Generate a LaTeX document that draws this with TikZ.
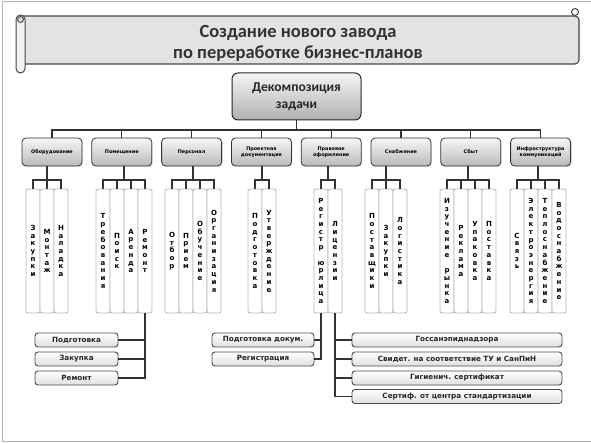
\documentclass[tikz,border=0pt]{standalone}
\usepackage{fontspec}
\setmainfont{DejaVu Sans}
\newfontfamily\headfont{Carlito}
\usetikzlibrary{shadows}

% one letter per line
\newcommand\vword[1]{\vwordnext#1\relax}
\def\vwordnext#1#2\relax{#1\ifx\relax#2\relax\else\\\vwordnext#2\relax\fi}

\tikzset{
    headbox/.style={rounded corners=6pt, draw=gray!30!black, line width=1pt,
        top color=gray!8, bottom color=gray!62, align=center,
        minimum width=129pt, minimum height=47pt,
        font=\headfont\bfseries\fontsize{13.5}{17}\selectfont, text=black!85},
    catbox/.style={rounded corners=4pt, draw=gray!40!black, line width=0.8pt,
        top color=gray!6, bottom color=gray!55, align=center, inner sep=1pt,
        minimum width=60pt, minimum height=28pt,
        drop shadow={opacity=0.2, shadow xshift=1pt, shadow yshift=-1pt},
        font=\bfseries\fontsize{4.9}{6.2}\selectfont},
    colbox/.style={rounded corners=2pt, draw=gray!55, line width=0.9pt, fill=white,
        align=center, inner sep=0pt, minimum width=14pt, minimum height=124pt,
        font=\bfseries\fontsize{7}{7.7}\selectfont, text=black},
    subbox/.style={rounded corners=3pt, draw=gray!60!black, line width=0.9pt,
        top color=white, bottom color=gray!25, inner sep=0pt, minimum height=14pt,
        font=\bfseries\fontsize{7.2}{8}\selectfont, text=black!85},
    link/.style={draw=gray!40!black, line width=1.1pt}
}

\begin{document}
\begin{tikzpicture}[x=1pt,y=-1pt]
    \useasboundingbox (0,0) rectangle (591,443);
    \draw[gray!60, line width=1pt] (2,1.5) rectangle (595,441.5);

    % title scroll
    \draw[gray!55!black, line width=1.1pt, fill=gray!22, rounded corners=4pt]
        (22,16) -- (579,16) -- (579,64) -- (22,64);
    \draw[gray!55!black, line width=1pt, fill=gray!8] (575,12) circle (3.5pt);
    \draw[gray!55!black, line width=1pt, fill=gray!10, rounded corners=4.5pt]
        (16,15) rectangle (25,73);
    \draw[gray!55!black, line width=0.9pt, fill=gray!30] (20.5,19.5) circle (3pt);
    \node[align=center, text=black!80, font=\headfont\bfseries\fontsize{18.5}{21}\selectfont]
        (t) at (298,43) {Создание нового завода\\по переработке бизнес-планов};

    \node[headbox] (0) at (296.5,96.5) {Декомпозиция\\задачи};

    \begin{scope}[every node/.style={catbox}]
        \node (1) at (52,152)    {Оборудование};
        \node (2) at (121.8,152) {Помещение};
        \node (3) at (191.6,152) {Персонал};
        \node (4) at (261.4,152) {Проектная\\документация};
        \node (5) at (331.2,152) {Правовое\\оформление};
        \node (6) at (401,152)   {Снабжение};
        \node (7) at (470.8,152) {Сбыт};
        \node (8) at (540.6,152) {Инфраструктура\\коммуникаций};
    \end{scope}

    \coordinate (bus) at (0,130);
    \draw[link] (0.south) -- (0.south |- bus);
    \draw[link] (1.north) -- (1.north |- bus) -- (8.north |- bus) -- (8.north);
    \foreach \i in {2,...,7}
        \draw[link] (\i.north) -- (\i.north |- bus);

    \begin{scope}[every node/.style={colbox}]
        \node (1a) at (33,251)  {\vword{Закупки}};
        \node (1b) at (47,251)  {\vword{Монтаж}};
        \node (1c) at (61,251)  {\vword{Наладка}};

        \node (2a) at (103,251) {\vword{Требования}};
        \node (2b) at (117,251) {\vword{Поиск}};
        \node (2c) at (131,251) {\vword{Аренда}};
        \node (2d) at (145,251) {\vword{Ремонт}};

        \node (3a) at (172,251) {\vword{Отбор}};
        \node (3b) at (186,251) {\vword{Прием}};
        \node (3c) at (200,251) {\vword{Обучение}};
        \node (3d) at (214,251) {\vword{Организация}};

        \node (4a) at (255,251) {\vword{Подготовка}};
        \node (4b) at (269,251) {\vword{Утверждение}};

        \node (5a) at (321,251) {\vword{Регистр~юрлица}};
        \node (5b) at (335,251) {\vword{Лицензии}};

        \node (6a) at (372,251) {\vword{Поставщики}};
        \node (6b) at (386,251) {\vword{Закупки}};
        \node (6c) at (400,251) {\vword{Логистика}};

        \node (7a) at (447,251) {\vword{Изучение~рынка}};
        \node (7b) at (461,251) {\vword{Реклама}};
        \node (7c) at (475,251) {\vword{Упаковка}};
        \node (7d) at (489,251) {\vword{Поставка}};

        \node (8a) at (517,251) {\vword{Связь}};
        \node (8b) at (531,251) {\vword{Электроэнергия}};
        \node (8c) at (545,251) {\vword{Теплоснабжение}};
        \node (8d) at (559,251) {\vword{Водоснабжение}};
    \end{scope}

    % brackets under the groups
    \coordinate (b1) at (47,180);
    \coordinate (b2) at (124,180);
    \coordinate (b3) at (193,180);
    \coordinate (b4) at (262,180);
    \coordinate (b5) at (328,180);
    \coordinate (b6) at (386,180);
    \coordinate (b7) at (468,180);
    \coordinate (b8) at (538,180);

    \draw[link] (1.south -| b1) -- (b1);
    \draw[link] (1a.north) |- (b1) -| (1c.north);
    \draw[link] (1b.north) -- (1b.north |- b1);

    \draw[link] (2.south -| b2) -- (b2);
    \draw[link] (2a.north) |- (b2) -| (2d.north);
    \draw[link] (2b.north) -- (2b.north |- b2);
    \draw[link] (2c.north) -- (2c.north |- b2);

    \draw[link] (3.south -| b3) -- (b3);
    \draw[link] (3a.north) |- (b3) -| (3d.north);
    \draw[link] (3b.north) -- (3b.north |- b3);
    \draw[link] (3c.north) -- (3c.north |- b3);

    \draw[link] (4.south -| b4) -- (b4);
    \draw[link] (4a.north) |- (b4) -| (4b.north);

    \draw[link] (5.south -| b5) -- (b5);
    \draw[link] (5a.north) |- (b5) -| (5b.north);

    \draw[link] (6.south -| b6) -- (b6);
    \draw[link] (6a.north) |- (b6) -| (6c.north);
    \draw[link] (6b.north) -- (6b.north |- b6);

    \draw[link] (7.south -| b7) -- (b7);
    \draw[link] (7a.north) |- (b7) -| (7d.north);
    \draw[link] (7b.north) -- (7b.north |- b7);
    \draw[link] (7c.north) -- (7c.north |- b7);

    \draw[link] (8.south -| b8) -- (b8);
    \draw[link] (8a.north) |- (b8) -| (8d.north);
    \draw[link] (8b.north) -- (8b.north |- b8);
    \draw[link] (8c.north) -- (8c.north |- b8);

    % lower boxes
    \begin{scope}[every node/.style={subbox}]
        \node[minimum width=83pt] (p1) at (76.5,340) {Подготовка};
        \node[minimum width=83pt] (p2) at (76.5,359) {Закупка};
        \node[minimum width=83pt] (p3) at (76.5,378) {Ремонт};

        \node[minimum width=102pt] (d1) at (263,340) {Подготовка докум.};
        \node[minimum width=102pt] (d2) at (263,359) {Регистрация};

        \node[minimum width=210pt] (s1) at (457,340)   {Госсанэпиднадзора};
        \node[minimum width=210pt] (s2) at (457,359)   {Свидет. на соответствие ТУ и СанПиН};
        \node[minimum width=210pt] (s3) at (457,378)   {Гигиенич. сертификат};
        \node[minimum width=210pt] (s4) at (457,396.5) {Сертиф. от центра стандартизации};
    \end{scope}

    \draw[link] (2d.south) |- (p3.east);
    \draw[link] (p1.east) -- (p1.east -| 2d.south);
    \draw[link] (p2.east) -- (p2.east -| 2d.south);

    \draw[link] (5a.south) |- (d2.east);
    \draw[link] (d1.east) -- (d1.east -| 5a.south);

    \draw[link] (5b.south) |- (s4.west);
    \draw[link] (s1.west) -- (s1.west -| 5b.south);
    \draw[link] (s2.west) -- (s2.west -| 5b.south);
    \draw[link] (s3.west) -- (s3.west -| 5b.south);

\end{tikzpicture}
\end{document}
